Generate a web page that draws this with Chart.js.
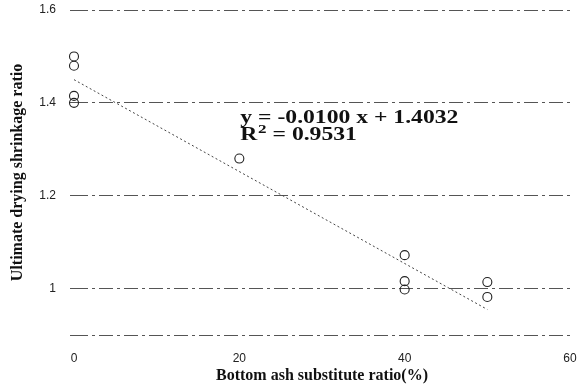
<!DOCTYPE html>
<html>
<head>
<meta charset="utf-8">
<script src="https://cdn.jsdelivr.net/npm/chart.js@4/dist/chart.umd.min.js"></script>
<style>
  body { margin: 0; background: #fff; }
  #wrap { width: 587px; height: 388px; }
</style>
</head>
<body>
<div id="wrap"><canvas id="shrinkChart" width="587" height="388"></canvas></div>
<script>
// data
const substituteRatio = [0, 0, 0, 0, 20, 40, 40, 40, 50, 50];
const shrinkageRatio = [1.50, 1.48, 1.415, 1.40, 1.28, 1.072, 1.016, 0.998, 1.014, 0.982];

// fitted line as drawn (start and end)
const trendX = [0, 50];
const trendY = [1.45, 0.955];

const xTicks = [0, 20, 40, 60];
const yTicks = [0.9, 1, 1.2, 1.4, 1.6];

const equationText = 'y = -0.0100 x + 1.4032';
const r2Text = '0.9531';

const points = substituteRatio.map((x, i) => ({ x: x, y: shrinkageRatio[i] }));
const trendPoints = trendX.map((x, i) => ({ x: x, y: trendY[i] }));

// draws the regression equation inside the plot (scan is a bit stretched sideways)
const equationPlugin = {
  id: 'equation',
  afterDatasetsDraw(chart) {
    const ctx = chart.ctx;
    const left = chart.scales.x.getPixelForValue(20) + 1;
    const bigFont = 'bold 18px "Liberation Serif"';
    const smallFont = 'bold 13px "Liberation Serif"';
    ctx.save();
    ctx.fillStyle = '#111';
    ctx.textBaseline = 'alphabetic';
    ctx.textAlign = 'left';
    ctx.font = bigFont;
    const sx = 218 / ctx.measureText(equationText).width;
    ctx.translate(left, 0);
    ctx.scale(sx, 1);
    ctx.fillText(equationText, 0, 123);
    // R squared with a raised 2
    ctx.fillText('R', 0, 140);
    let w = ctx.measureText('R').width + 0.5;
    ctx.font = smallFont;
    ctx.fillText('2', w, 133);
    w += ctx.measureText('2').width;
    ctx.font = bigFont;
    ctx.fillText(' = ' + r2Text, w, 140);
    ctx.restore();
  }
};

const config = {
  type: 'scatter',
  data: {
    datasets: [
      {
        label: 'Measured',
        data: points,
        pointStyle: 'circle',
        pointRadius: 4.5,
        pointBorderWidth: 1.1,
        borderColor: '#222',
        backgroundColor: 'rgba(0,0,0,0)',
        clip: false
      },
      {
        type: 'line',
        label: 'Trend',
        data: trendPoints,
        borderColor: '#444',
        borderWidth: 1,
        borderDash: [2, 2.5],
        pointRadius: 0,
        fill: false
      }
    ]
  },
  options: {
    responsive: false,
    animation: false,
    layout: { padding: { top: 10, right: 17, left: 0, bottom: 0 } },
    plugins: {
      legend: { display: false },
      tooltip: { enabled: false }
    },
    scales: {
      x: {
        type: 'linear',
        min: 0,
        max: 60,
        afterBuildTicks: (s) => { s.ticks = xTicks.map(v => ({ value: v })); },
        afterFit: (s) => {
          s.height = 53;
          s.paddingLeft = 0;
          s.paddingRight = 0;
        },
        grid: { display: false },
        border: { display: false },
        ticks: {
          padding: 8,
          color: '#222',
          font: { family: '"Liberation Sans"', size: 12 },
          maxRotation: 0
        },
        title: {
          display: true,
          text: 'Bottom ash substitute ratio(%)',
          color: '#111',
          font: { family: '"Liberation Serif"', size: 16, weight: 'bold' },
          padding: { top: 0, bottom: 3 }
        }
      },
      y: {
        type: 'linear',
        min: 0.9,
        max: 1.6,
        afterBuildTicks: (s) => { s.ticks = yTicks.map(v => ({ value: v })); },
        afterFit: (s) => {
          s.width = 74;
          s.paddingTop = 0;
          s.paddingBottom = 0;
        },
        grid: {
          color: '#555',
          lineWidth: 1,
          drawTicks: true,
          tickLength: 4
        },
        border: { display: false, dash: [14, 4, 3, 4] },
        ticks: {
          padding: 14,
          color: '#222',
          font: { family: '"Liberation Sans"', size: 12 },
          callback: (v) => (v === 0.9 ? '' : String(v))
        },
        title: {
          display: true,
          text: 'Ultimate drying shrinkage ratio',
          color: '#111',
          font: { family: '"Liberation Serif"', size: 16, weight: 'bold' },
          padding: { top: 8, bottom: 0 }
        }
      }
    }
  },
  plugins: [equationPlugin]
};

const shrinkChart = new Chart(document.getElementById('shrinkChart'), config);
</script>
</body>
</html>
